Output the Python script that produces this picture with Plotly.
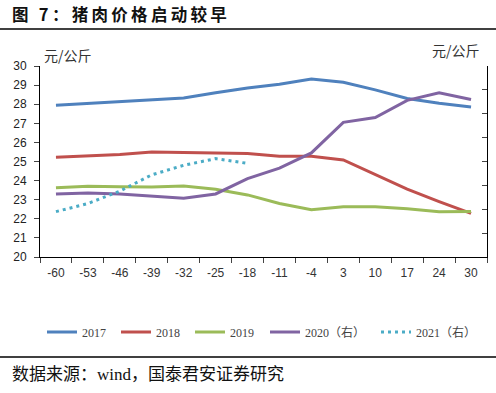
import plotly.graph_objects as go

categories = ["-60", "-53", "-46", "-39", "-32", "-25", "-18", "-11", "-4", "3", "10", "17", "24", "30"]
s2017 = [27.95, 28.05, 28.15, 28.25, 28.32, 28.6, 28.85, 29.05, 29.32, 29.15, 28.75, 28.3, 28.05, 27.85]
s2018 = [25.22, 25.28, 25.37, 25.5, 25.48, 25.47, 25.42, 25.27, 25.27, 25.08, 24.3, 23.55, 22.9, 22.28]
s2019 = [23.62, 23.7, 23.68, 23.67, 23.72, 23.55, 23.25, 22.8, 22.47, 22.63, 22.63, 22.52, 22.37, 22.38]
s2020 = [33.2, 33.4, 33.2, 32.7, 32.3, 33.2, 36.4, 38.6, 41.8, 48.2, 49.2, 52.8, 54.4, 53.0]
s2021 = [29.5, 31.2, 33.8, 37.2, 39.2, 40.6, 39.6]

left_ticks = list(range(20, 31))

W, H = 496, 393
L, R, T, B = 40, 9, 66, 136
pw, ph = W - L - R, H - T - B

def px(xp):
    return (xp - L) / pw

def py(yp):
    return (H - B - yp) / ph

legend_font = dict(family="Liberation Serif, Noto Sans CJK SC", size=12, color="#444")
legend_x = [42, 116, 190, 265, 376]

fig = go.Figure()
specs = [
    ("2017", categories, s2017, "y", dict(color="#4F81BD", width=3)),
    ("2018", categories, s2018, "y", dict(color="#C0504D", width=3)),
    ("2019", categories, s2019, "y", dict(color="#9BBB59", width=3)),
    ("2020（右）", categories, s2020, "y2", dict(color="#8064A2", width=3)),
    ("2021（右）", categories[:len(s2021)], s2021, "y2", dict(color="#4BACC6", width=3, dash="3px,4px")),
]
for i, (name, xs, ys, ax, ln) in enumerate(specs):
    lg = "legend" if i == 0 else f"legend{i+1}"
    fig.add_trace(go.Scatter(x=xs, y=ys, name=name, mode="lines", yaxis=ax, line=ln, legend=lg))

legends = {}
for i, lx in enumerate(legend_x):
    key = "legend" if i == 0 else f"legend{i+1}"
    legends[key] = dict(orientation="h", x=px(lx), y=py(332), xanchor="left", yanchor="middle",
                        font=legend_font, itemwidth=30, bgcolor="rgba(0,0,0,0)")

fig.update_layout(
    width=W, height=H,
    margin=dict(l=L, r=R, t=T, b=B),
    paper_bgcolor="white", plot_bgcolor="white",
    font=dict(family="Liberation Sans, Arial, sans-serif", size=12, color="#222"),
    showlegend=True,
    xaxis=dict(type="category", range=[-0.5, len(categories) - 0.5], tickson="boundaries",
               ticks="outside", ticklen=5, ticklabelstandoff=5,
               showline=True, linecolor="black", linewidth=1, showgrid=False,
               tickfont=dict(size=12, color="#333"), zeroline=False),
    yaxis=dict(range=[20, 30], tickvals=left_ticks, ticks="outside", ticklen=5, ticklabelstandoff=5,
               showline=True, linecolor="black", linewidth=1, showgrid=False,
               tickfont=dict(size=12, color="#222"), zeroline=False),
    yaxis2=dict(range=[20, 60], dtick=5, overlaying="y", side="right", ticks="inside", ticklen=5,
                showline=True, linecolor="black", linewidth=1, showgrid=False,
                showticklabels=False, zeroline=False),
    **legends,
)

title_text = "\u2009".join(list("图 7：猪肉价格启动较早"))
fig.add_annotation(text="<b>" + title_text + "</b>", xref="paper", yref="paper",
                   x=px(10), y=py(14), xanchor="left", yanchor="middle", showarrow=False,
                   font=dict(family="Noto Sans CJK SC", size=16.5, color="#111"))
fig.add_annotation(text="元/公斤", xref="paper", yref="paper",
                   x=px(42), y=py(55), xanchor="left", yanchor="middle", showarrow=False,
                   font=dict(family="Noto Sans CJK SC", size=14, color="#333"))
fig.add_annotation(text="元/公斤", xref="paper", yref="paper",
                   x=px(482), y=py(50), xanchor="right", yanchor="middle", showarrow=False,
                   font=dict(family="Noto Sans CJK SC", size=14, color="#333"))
fig.add_annotation(text="数据来源：wind，国泰君安证券研究", xref="paper", yref="paper",
                   x=px(10), y=py(374), xanchor="left", yanchor="middle", showarrow=False,
                   font=dict(family="Liberation Serif, Noto Sans CJK SC", size=17, color="#111"))

fig.add_shape(type="line", xref="paper", yref="paper", x0=px(0), x1=px(W), y0=py(29), y1=py(29),
              line=dict(color="black", width=1.5))
fig.add_shape(type="line", xref="paper", yref="paper", x0=px(0), x1=px(W), y0=py(357), y1=py(357),
              line=dict(color="black", width=1.5))

fig.write_html("out.html", config={"displayModeBar": False},
               post_script="document.body.style.margin='0';document.body.style.padding='0';")
